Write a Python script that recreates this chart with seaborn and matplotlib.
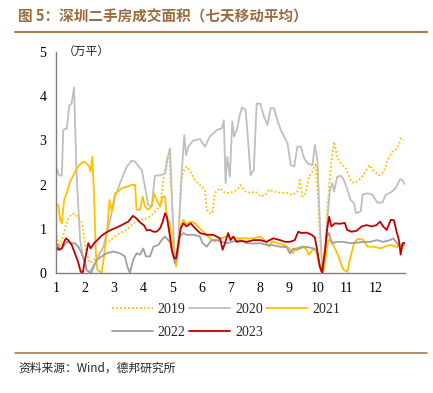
import numpy as np
import pandas as pd
import seaborn as sns
import matplotlib.pyplot as plt
from matplotlib.lines import Line2D

# x = month position (1 = start of Jan, 13 = end of Dec), y = area in 10k m2
x19 = [1.0, 1.11, 1.2, 1.31, 1.42, 1.54, 1.65, 1.77, 1.88, 1.94, 2.05, 2.17, 2.34, 2.51, 2.68, 2.86, 3.03, 3.2,
       3.43, 3.66, 3.89, 4.12, 4.35, 4.58, 4.69, 4.81, 4.9, 4.98, 5.06, 5.13, 5.21, 5.29, 5.38, 5.49, 5.61, 5.78,
       5.95, 6.12, 6.18, 6.29, 6.38, 6.46, 6.64, 6.81, 6.98, 7.23, 7.34, 7.52, 7.69, 7.86, 8.03, 8.2, 8.32, 8.5,
       8.73, 8.96, 9.13, 9.3, 9.39, 9.47, 9.59, 9.7, 9.82, 9.93, 10.01, 10.08, 10.16, 10.24, 10.33, 10.45, 10.56,
       10.67, 10.79, 10.96, 11.13, 11.25, 11.42, 11.6, 11.77, 11.94, 12.11, 12.28, 12.4, 12.57, 12.74, 12.86, 12.95]
y19 = [0.93, 0.59, 0.74, 1.0, 1.23, 1.33, 1.34, 1.23, 1.15, 0.9, 0.44, 0.22, 0.3, 0.44, 0.63, 0.74, 0.82, 0.9,
       0.97, 1.12, 1.2, 1.23, 1.34, 1.53, 2.1, 2.59, 2.63, 1.65, 0.59, 0.22, 0.9, 2.03, 2.3, 2.41, 2.3, 2.1,
       1.99, 1.88, 1.43, 1.35, 1.35, 1.81, 1.92, 1.81, 1.81, 1.88, 1.99, 1.84, 1.81, 1.84, 1.73, 1.76, 1.88, 1.84,
       1.81, 1.81, 1.76, 1.84, 2.1, 1.73, 1.81, 2.18, 2.3, 2.48, 1.65, 0.74, 0.07, 0.37, 1.5, 2.41, 2.97,
       2.63, 2.48, 2.37, 2.1, 2.03, 2.1, 2.25, 2.44, 2.3, 2.21, 2.3, 2.56, 2.75, 2.82, 3.05, 3.01]

x20 = [1.0, 1.11, 1.2, 1.25, 1.37, 1.46, 1.54, 1.62, 1.71, 1.83, 1.94, 2.05, 2.23, 2.4, 2.63, 2.86, 3.03, 3.2,
       3.43, 3.6, 3.72, 3.83, 3.95, 4.06, 4.17, 4.29, 4.4, 4.58, 4.75, 4.86, 4.92, 4.98, 5.06, 5.13, 5.21, 5.32,
       5.41, 5.47, 5.55, 5.72, 5.95, 6.12, 6.29, 6.53, 6.7, 6.77, 6.83, 6.89, 6.98, 7.06, 7.12, 7.23, 7.32, 7.4,
       7.52, 7.63, 7.69, 7.8, 7.9, 8.03, 8.15, 8.27, 8.38, 8.5, 8.61, 8.73, 8.84, 8.96, 9.07, 9.19, 9.3, 9.42,
       9.53, 9.65, 9.82, 9.9, 9.99, 10.05, 10.1, 10.16, 10.24, 10.33, 10.42, 10.5, 10.56, 10.67, 10.79, 10.9,
       11.02, 11.13, 11.25, 11.31, 11.48, 11.54, 11.71, 11.88, 12.05, 12.22, 12.34, 12.51, 12.68, 12.83, 12.91, 13.0]
y20 = [2.4, 2.21, 2.2, 3.24, 3.27, 3.8, 3.84, 4.2, 2.2, 0.74, 0.29, 0.05, 0.0, 0.3, 0.59, 1.2, 1.72, 2.03,
       2.4, 2.54, 2.52, 2.42, 2.33, 1.95, 1.54, 1.5, 2.2, 2.21, 2.25, 2.67, 2.82, 1.8, 0.59, 0.22, 0.74, 2.25,
       3.12, 2.67, 2.86, 3.0, 3.03, 2.86, 3.09, 3.24, 3.27, 3.46, 2.03, 2.63, 2.18, 3.43, 3.09, 3.27, 3.58, 3.75,
       3.69, 2.78, 2.21, 2.33, 3.84, 3.83, 3.54, 3.35, 3.73, 3.73, 3.46, 3.24, 3.09, 2.94, 2.44, 2.41, 2.86, 2.86,
       2.6, 2.48, 2.44, 2.9, 2.56, 1.5, 0.74, 0.07, 0.3, 1.2, 1.88, 2.03, 1.84, 2.18, 2.2, 2.1,
       1.88, 1.65, 1.57, 1.35, 1.39, 1.77, 1.8, 1.77, 1.59, 1.59, 1.77, 1.82, 1.92, 2.12, 2.1, 2.0]

x21 = [1.0, 1.08, 1.14, 1.2, 1.28, 1.37, 1.48, 1.6, 1.71, 1.83, 1.94, 2.05, 2.14, 2.19, 2.25, 2.31, 2.37, 2.42,
       2.57, 2.65, 2.77, 2.84, 2.92, 3.03, 3.14, 3.26, 3.43, 3.6, 3.72, 3.77, 3.89, 3.98, 4.06, 4.17, 4.29, 4.38,
       4.46, 4.58, 4.67, 4.75, 4.81, 4.9, 4.98, 5.06, 5.13, 5.21, 5.29, 5.38, 5.49, 5.63, 5.78, 5.95, 6.12, 6.29,
       6.46, 6.64, 6.87, 7.12, 7.34, 7.57, 7.8, 8.03, 8.2, 8.32, 8.44, 8.61, 8.84, 9.02, 9.13, 9.24, 9.42, 9.59,
       9.7, 9.82, 9.93, 10.01, 10.1, 10.19, 10.28, 10.36, 10.45, 10.56, 10.67, 10.79, 10.88, 11.02, 11.13, 11.25,
       11.36, 11.54, 11.71, 11.94, 12.17, 12.34, 12.51, 12.74, 12.86, 12.97]
y21 = [1.54, 1.54, 1.2, 1.12, 1.65, 1.8, 2.06, 2.21, 2.37, 2.46, 2.52, 2.48, 2.41, 2.29, 2.63, 1.73, 0.44, 0.07,
       0.0, 0.37, 1.05, 1.65, 1.39, 1.8, 1.84, 1.92, 1.95, 1.99, 1.99, 1.43, 1.43, 1.73, 1.5, 1.43, 1.5, 1.8,
       1.65, 1.5, 1.73, 1.73, 1.27, 1.12, 0.74, 0.33, 0.14, 0.59, 1.05, 1.2, 1.1, 1.16, 1.12, 1.0, 0.9, 0.78,
       0.71, 0.78, 0.82, 0.78, 0.78, 0.78, 0.78, 0.82, 0.71, 0.59, 0.71, 0.67, 0.63, 0.55, 0.44, 0.55, 0.59, 0.55,
       0.41, 0.52, 0.52, 0.3, 0.07, 0.0, 0.37, 0.74, 0.74, 0.59, 0.44, 0.22, 0.07, 0.02, 0.37, 0.67,
       0.76, 0.76, 0.59, 0.59, 0.55, 0.6, 0.63, 0.58, 0.63, 0.68]

x22 = [1.02, 1.14, 1.25, 1.37, 1.54, 1.65, 1.77, 1.88, 2.0, 2.05, 2.17, 2.28, 2.42, 2.57, 2.74, 2.97, 3.2, 3.37,
       3.45, 3.54, 3.66, 3.77, 3.89, 4.0, 4.09, 4.23, 4.35, 4.52, 4.63, 4.75, 4.86, 4.94, 5.01, 5.09, 5.17, 5.26,
       5.38, 5.49, 5.72, 5.95, 6.04, 6.18, 6.35, 6.52, 6.64, 6.87, 7.1, 7.33, 7.56, 7.79, 8.02, 8.24, 8.47, 8.7,
       8.93, 9.04, 9.16, 9.27, 9.39, 9.5, 9.67, 9.85, 9.96, 10.05, 10.13, 10.22, 10.31, 10.39, 10.48, 10.65,
       10.88, 11.11, 11.34, 11.57, 11.8, 12.03, 12.26, 12.48, 12.6, 12.77, 12.89, 12.97]
y22 = [0.67, 0.52, 0.59, 0.7, 0.67, 0.67, 0.59, 0.44, 0.25, 0.07, 0.0, 0.14, 0.3, 0.37, 0.44, 0.48, 0.44, 0.37,
       0.14, 0.0, 0.3, 0.44, 0.41, 0.55, 0.37, 0.37, 0.59, 0.63, 0.74, 0.82, 0.74, 0.67, 0.44, 0.22, 0.37, 0.82,
       0.9, 0.86, 0.86, 0.82, 0.67, 0.59, 0.74, 0.74, 0.71, 0.67, 0.71, 0.74, 0.67, 0.66, 0.67, 0.63, 0.62, 0.59,
       0.58, 0.44, 0.55, 0.52, 0.55, 0.59, 0.58, 0.55, 0.52, 0.22, 0.02, 0.37, 0.82, 0.9, 0.67, 0.7,
       0.7, 0.67, 0.68, 0.7, 0.7, 0.74, 0.7, 0.74, 0.78, 0.63, 0.59, 0.63]

x23 = [1.0, 1.08, 1.2, 1.28, 1.34, 1.42, 1.54, 1.65, 1.77, 1.85, 1.92, 2.0, 2.11, 2.19, 2.31, 2.42, 2.57, 2.72,
       2.86, 3.03, 3.2, 3.37, 3.49, 3.64, 3.77, 3.91, 4.02, 4.12, 4.23, 4.35, 4.46, 4.58, 4.67, 4.75, 4.81, 4.9,
       4.98, 5.06, 5.13, 5.21, 5.29, 5.38, 5.49, 5.63, 5.78, 5.95, 6.18, 6.41, 6.64, 6.73, 6.81, 6.92, 7.0, 7.1,
       7.21, 7.39, 7.56, 7.79, 8.02, 8.24, 8.47, 8.7, 8.87, 9.04, 9.21, 9.33, 9.44, 9.62, 9.79, 9.9, 9.98, 10.07,
       10.15, 10.24, 10.32, 10.39, 10.47, 10.59, 10.76, 10.93, 11.01, 11.16, 11.33, 11.51, 11.68, 11.85, 12.02,
       12.14, 12.25, 12.37, 12.51, 12.62, 12.71, 12.79, 12.85, 12.92, 12.99]
y23 = [0.6, 0.52, 0.55, 0.7, 0.78, 0.74, 0.63, 0.44, 0.22, 0.02, 0.0, 0.3, 0.67, 0.55, 0.67, 0.74, 0.84, 0.91,
       0.96, 1.01, 1.06, 1.12, 1.16, 1.29, 1.23, 1.13, 1.08, 0.96, 0.97, 0.93, 0.93, 1.01, 1.16, 1.35, 1.27, 0.9,
       0.52, 0.33, 0.33, 0.67, 1.01, 1.12, 1.05, 1.12, 1.01, 0.9, 0.86, 0.86, 0.78, 0.52, 0.67, 0.9, 0.74, 0.82,
       0.7, 0.72, 0.7, 0.74, 0.74, 0.7, 0.78, 0.74, 0.7, 0.7, 0.74, 0.93, 0.9, 0.91, 0.86, 0.8, 0.52, 0.14,
       0.0, 0.44, 0.97, 1.27, 1.05, 1.12, 1.11, 1.13, 0.97, 0.93, 0.95, 1.05, 1.08, 1.05, 1.08,
       1.16, 1.05, 0.97, 1.2, 1.19, 0.93, 0.74, 0.41, 0.67, 0.67]

years = ['2019', '2020', '2021', '2022', '2023']
colors = {'2019': '#ffc000', '2020': '#bfbfbf', '2021': '#ffc000', '2022': '#a0a0a0', '2023': '#c00000'}
month_labels = [str(m) for m in range(1, 13)] + ['']

frames = []
for yr, xs, ys in zip(years, [x19, x20, x21, x22, x23], [y19, y20, y21, y22, y23]):
    frames.append(pd.DataFrame({'month': xs, 'area': ys, 'year': yr}))
df = pd.concat(frames, ignore_index=True)

sns.set_theme(style='white')
plt.rcParams['font.family'] = ['Liberation Serif', 'Noto Sans CJK SC']

fig = plt.figure(figsize=(4.33, 3.93), dpi=100)
ax = fig.add_axes([56 / 433, 1 - 272.7 / 393, 349 / 433, 220.4 / 393])

def line_style(yr):
    return (0, (1, 1.2)) if yr == '2019' else '-'

for yr in years:
    sub = df[df['year'] == yr]
    sns.lineplot(data=sub, x='month', y='area', ax=ax, color=colors[yr], estimator=None,
                 linewidth=1.3, linestyle=line_style(yr), label=yr, legend=False)

ax.set_xlim(1, 13)
ax.set_ylim(0, 5)
ax.set_xticks(range(1, 14))
ax.set_xticklabels(month_labels)
ax.set_yticks(range(0, 6))
ax.set_xlabel('')
ax.set_ylabel('')
for s in ['top', 'right']:
    ax.spines[s].set_visible(False)
for s in ['left', 'bottom']:
    ax.spines[s].set_color('#808080')
    ax.spines[s].set_linewidth(1.0)
ax.tick_params(axis='both', direction='out', length=4, width=1, color='#808080',
               labelsize=10, labelcolor='black', pad=3)
for lab in ax.get_xticklabels() + ax.get_yticklabels():
    lab.set_family('Liberation Serif')

ax.text(0.02, 1.005, '（万平）', transform=ax.transAxes, fontsize=8.5,
        family=['Noto Sans CJK SC'], va='center', ha='left')

# legend, 3 columns, filled so rows read 2019 2020 2021 / 2022 2023
handles = {yr: Line2D([], [], color=colors[yr], lw=1.3, linestyle=line_style(yr)) for yr in years}
order = ['2019', '2022', '2020', '2023', '2021']
fig.legend([handles[k] for k in order], order, ncol=3, loc='center',
           bbox_to_anchor=(226 / 433, 1 - 321 / 393), frameon=False,
           handlelength=2.95, handletextpad=0.35, columnspacing=0.25, labelspacing=0.75,
           prop={'family': 'Liberation Serif', 'size': 10})

brown = '#a67c52'
fig.text(18 / 433, 1 - 17 / 393, '图 5：深圳二手房成交面积（七天移动平均）', fontsize=10.5, fontweight='bold',
         color='#9b6a3e', family=['Noto Sans CJK SC'], va='center', ha='left')
fig.add_artist(Line2D([15 / 433, 427 / 433], [1 - 32 / 393, 1 - 32 / 393], color=brown, lw=1.5))
fig.add_artist(Line2D([15 / 433, 427 / 433], [1 - 353 / 393, 1 - 353 / 393], color=brown, lw=1.2))
fig.text(18 / 433, 1 - 368 / 393, '资料来源：Wind，德邦研究所', fontsize=8.5,
         family=['Noto Sans CJK SC'], va='center', ha='left')

fig.savefig('out.png', dpi=100)
